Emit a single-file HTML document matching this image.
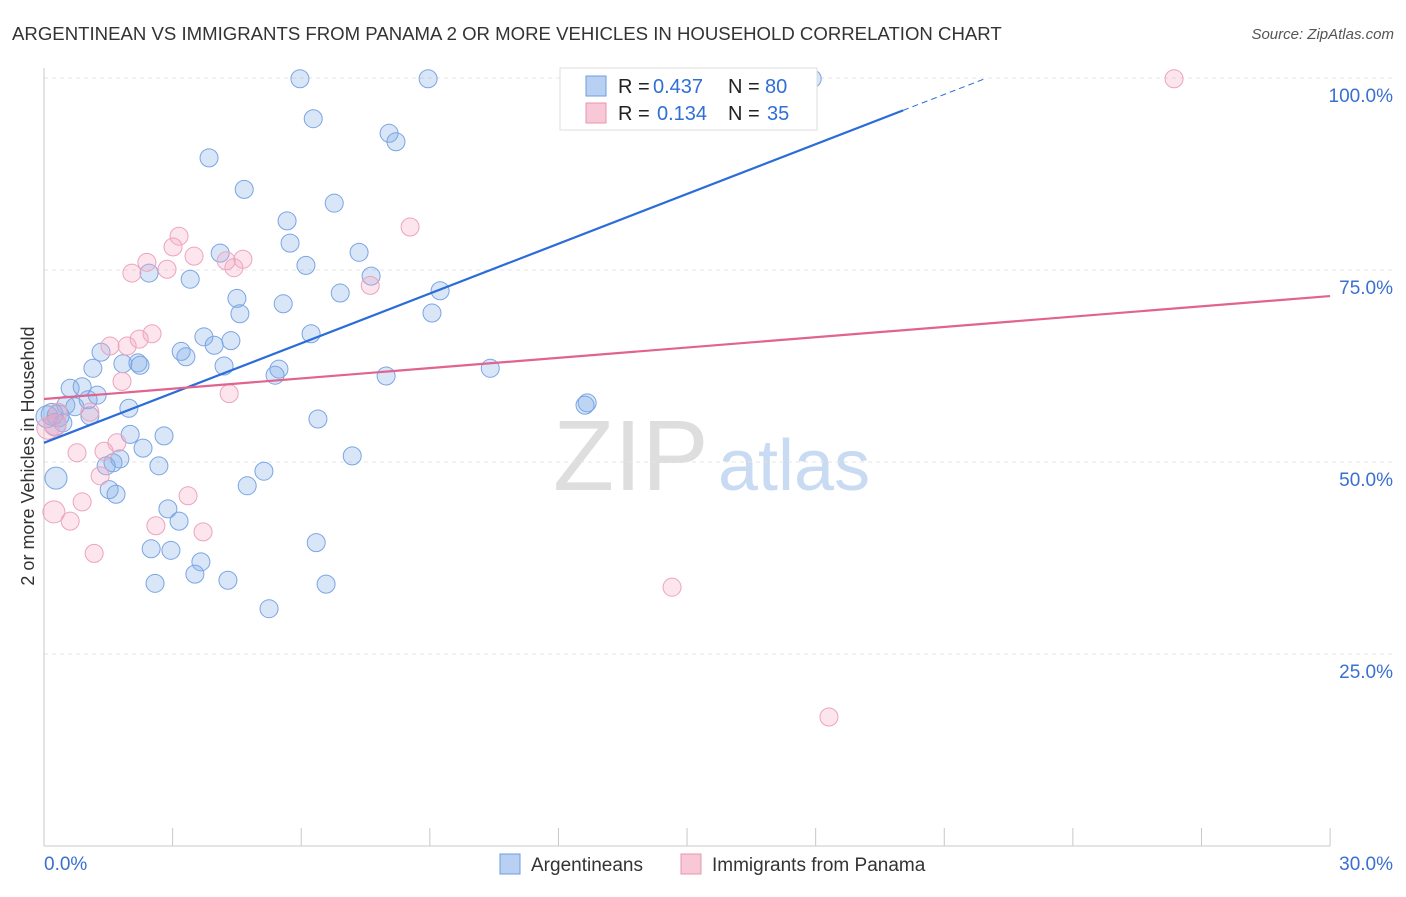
<!DOCTYPE html>
<html><head><meta charset="utf-8"><style>
body{margin:0;background:#fff;font-family:"Liberation Sans",sans-serif;}
svg text{font-family:"Liberation Sans",sans-serif;}
</style></head><body>
<svg id="chart" width="1406" height="892" xmlns="http://www.w3.org/2000/svg">
<text x="12" y="40" font-size="18.6" fill="#333">ARGENTINEAN VS IMMIGRANTS FROM PANAMA 2 OR MORE VEHICLES IN HOUSEHOLD CORRELATION CHART</text>
<text x="1394" y="39" font-size="15" fill="#555" font-style="italic" text-anchor="end">Source: ZipAtlas.com</text>
<text x="34" y="456" font-size="18" fill="#333" text-anchor="middle" transform="rotate(-90 34 456)">2 or more Vehicles in Household</text>
<g><text x="553" y="490" font-size="100" font-family="Liberation Serif,serif" fill="#dedede">ZIP</text><text x="718" y="490" font-size="72" fill="#c8dbf2">atlas</text></g>
<g id="grid"></g><g id="axes"></g><g id="pts"></g><g id="lines"></g>
<g>
<rect x="560" y="68" width="257" height="62" fill="#fff" stroke="#ddd"/>
<rect x="586" y="76" width="20" height="20" fill="#b8d1f3" stroke="#6f9de0"/>
<text x="618" y="93" font-size="20" fill="#222">R =</text><text x="653" y="93" font-size="20" fill="#2f6fd6">0.437</text>
<text x="728" y="93" font-size="20" fill="#222">N =</text><text x="765" y="93" font-size="20" fill="#2f6fd6">80</text>
<rect x="586" y="103" width="20" height="20" fill="#f8c8d6" stroke="#e994b2"/>
<text x="618" y="120" font-size="20" fill="#222">R =</text><text x="657" y="120" font-size="20" fill="#2f6fd6">0.134</text>
<text x="728" y="120" font-size="20" fill="#222">N =</text><text x="767" y="120" font-size="20" fill="#2f6fd6">35</text>
</g>
<g>
<rect x="500" y="854" width="20" height="20" fill="#b8d1f3" stroke="#6f9de0"/>
<text x="531" y="871" font-size="19" fill="#333">Argentineans</text>
<rect x="681" y="854" width="20" height="20" fill="#f8c8d6" stroke="#e994b2"/>
<text x="712" y="871" font-size="19" fill="#333">Immigrants from Panama</text>
</g>
</svg>
<script>
const yTicks=[25,50,75,100];
const yTickLabels=["25.0%","50.0%","75.0%","100.0%"];
const xTicks=[0,3,6,9,12,15,18,21,24,27,30];
const blueX=[5.97,8.96,17.92,6.28,8.05,8.21,3.85,4.67,6.77,5.67,5.74,4.11,7.35,6.11,2.45,7.63,3.41,6.91,9.24,4.50,5.58,4.57,9.05,3.73,4.36,6.23,3.97,3.20,3.31,1.33,4.20,5.48,1.84,2.19,2.24,1.14,10.41,5.39,7.98,0.61,0.89,1.24,12.67,12.62,0.51,0.72,1.03,1.98,0.19,0.33,1.07,6.39,0.44,0.07,2.01,2.80,2.31,7.19,1.77,1.61,1.45,2.68,5.13,0.28,4.74,1.52,1.68,2.89,3.15,6.35,2.50,2.96,3.66,3.52,2.59,4.29,6.58,5.25,0.26];
const blueY=[99.9,99.9,99.9,94.7,92.8,91.7,89.6,85.5,83.7,81.4,78.5,77.2,77.3,75.6,74.6,74.2,73.8,72.0,72.3,71.3,70.6,69.3,69.4,66.3,65.8,66.7,65.2,64.4,63.7,64.3,62.5,62.1,62.8,62.9,62.6,62.2,62.2,61.3,61.2,59.6,59.8,58.7,57.7,57.4,57.4,57.2,58.1,57.0,56.2,56.0,56.0,55.6,55.1,55.9,53.6,53.4,51.8,50.8,50.4,49.9,49.5,49.5,48.8,47.9,46.9,46.4,45.8,43.9,42.3,39.5,38.7,38.5,37.0,35.4,34.2,34.6,34.1,30.9,54.9];
const pinkX=[26.36,8.54,3.15,3.01,3.50,2.40,4.25,4.64,2.87,4.43,2.05,7.61,2.52,2.22,1.54,1.94,1.82,4.32,1.07,0.33,0.26,1.70,1.40,0.77,1.31,3.36,0.89,0.23,0.61,2.61,3.71,1.17,14.65,18.31,0.09];
const pinkY=[99.9,80.6,79.4,78.0,76.8,76.0,76.2,76.4,75.1,75.3,74.6,73.0,66.7,66.0,65.1,65.1,60.5,58.9,56.5,56.5,54.8,52.5,51.4,51.2,48.2,45.6,44.8,43.5,42.3,41.7,40.9,38.1,33.7,16.8,54.4];
const blueTrend=[52.5,2.16];
const pinkTrend=[58.2,0.447];
const X=v=>44+v*42.87, Y=v=>846-v*7.68;
const NS="http://www.w3.org/2000/svg";
function mk(tag,attrs,parent){const e=document.createElementNS(NS,tag);for(const k in attrs)e.setAttribute(k,attrs[k]);document.getElementById(parent).appendChild(e);return e;}
yTicks.forEach((t,i)=>{
 const g=mk('line',{x1:44,x2:1393,y1:Y(t),y2:Y(t),stroke:'#e4e4e4','stroke-dasharray':'4 4'},'grid');
 
 
 const l=mk('text',{x:1393,y:Y(t)+24,'font-size':19,fill:'#3a6fd0','text-anchor':'end'},'grid');
 l.textContent=yTickLabels[i];
 
 
});
const ax=mk('line',{x1:44,x2:44,y1:68,y2:846,stroke:'#c8c8c8'},'axes');


const bx=mk('line',{x1:44,x2:1330,y1:846,y2:846,stroke:'#c8c8c8'},'axes');


xTicks.forEach(t=>{
 const k=mk('line',{x1:X(t),x2:X(t),y1:828,y2:846,stroke:'#c8c8c8'},'axes');
 
 
});
const x0=mk('text',{x:44,y:870,'font-size':19,fill:'#3a6fd0'},'axes');x0.textContent='0.0%';


const x1=mk('text',{x:1393,y:870,'font-size':19,fill:'#3a6fd0','text-anchor':'end'},'axes');x1.textContent='30.0%';


blueX.forEach((v,i)=>{
 const big=(v<0.35&&blueY[i]>47&&blueY[i]<57);
 const c=mk('circle',{cx:X(v),cy:Y(blueY[i]),r:big?11:9,fill:'rgba(130,172,232,0.3)',stroke:'#7aa5e4','stroke-width':1},'pts');
 
 
});
pinkX.forEach((v,i)=>{
 const big=(v<0.3&&pinkY[i]<55);
 const c=mk('circle',{cx:X(v),cy:Y(pinkY[i]),r:big?11:9,fill:'rgba(244,170,196,0.3)',stroke:'#eca4be','stroke-width':1},'pts');
 
 
});
const bxEnd=20.04, bxDash=21.95;
const b1=mk('line',{x1:X(0),y1:Y(blueTrend[0]),x2:X(bxEnd),y2:Y(blueTrend[0]+blueTrend[1]*bxEnd),stroke:'#2a6dd9','stroke-width':2.2},'lines');


const b2=mk('line',{x1:X(bxEnd),y1:Y(blueTrend[0]+blueTrend[1]*bxEnd),x2:X(bxDash),y2:Y(blueTrend[0]+blueTrend[1]*bxDash),stroke:'#2a6dd9','stroke-width':1,'stroke-dasharray':'6 4'},'lines');


const p1=mk('line',{x1:X(0),y1:Y(pinkTrend[0]),x2:X(30),y2:Y(pinkTrend[0]+pinkTrend[1]*30),stroke:'#e0648f','stroke-width':2.2},'lines');


</script>
</body></html>
